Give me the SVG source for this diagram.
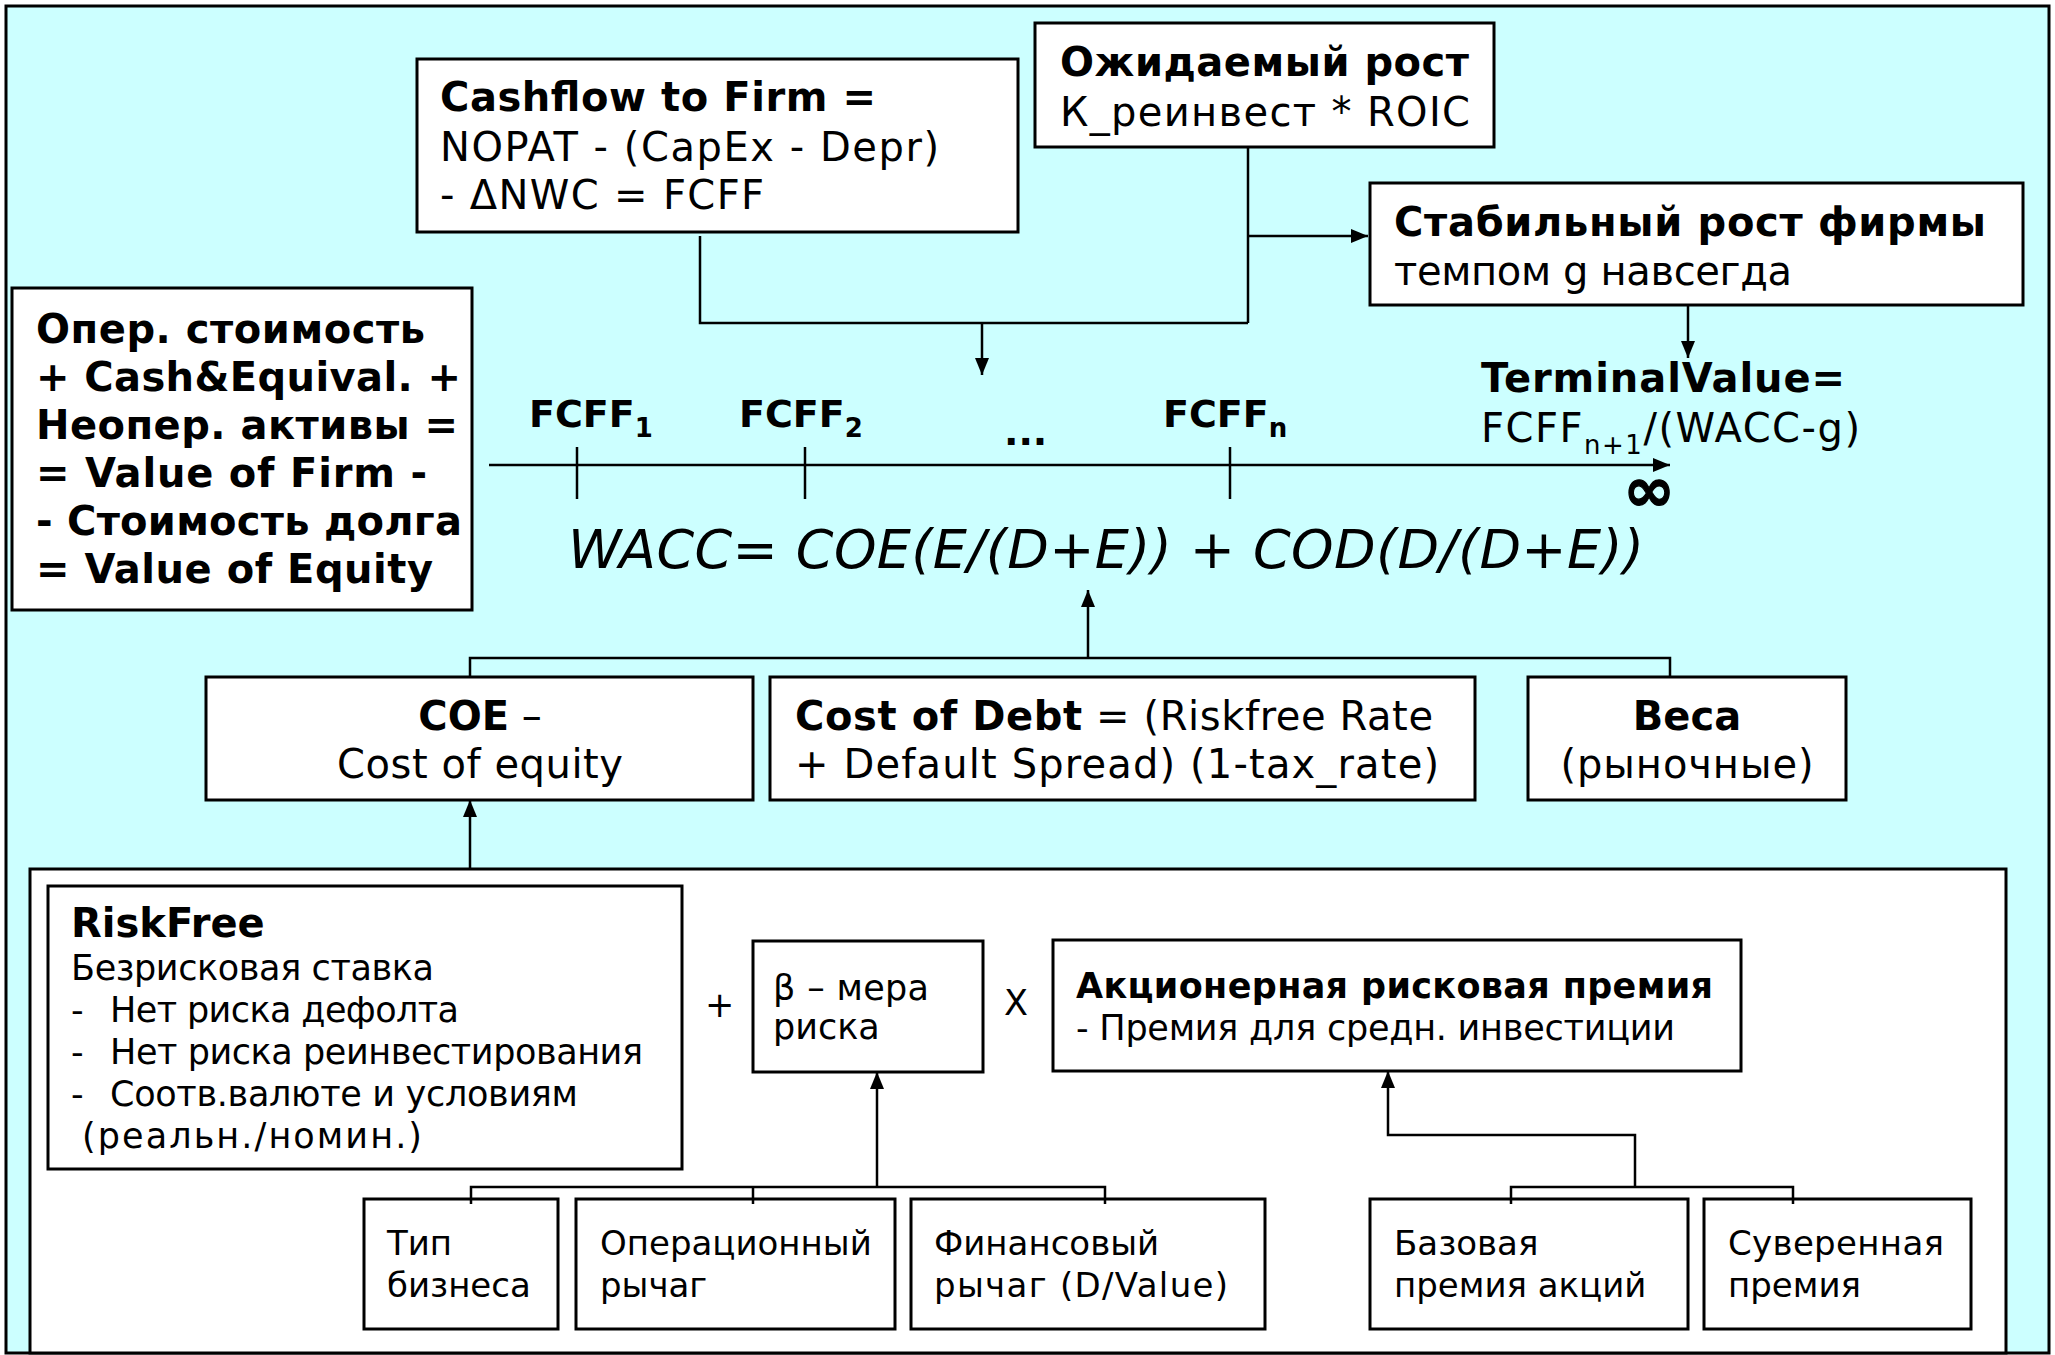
<svg xmlns="http://www.w3.org/2000/svg" width="2055" height="1355" viewBox="0 0 2055 1355">
<style>
text{font-family:"DejaVu Sans",Verdana,sans-serif;fill:#000}
.b{font-weight:bold}
.f40{font-size:40px}
.f35{font-size:35px}
.f34{font-size:34px}
.box{fill:#fff;stroke:#000;stroke-width:3}
.ln{fill:none;stroke:#000;stroke-width:2.5}
</style>
<defs>
<marker id="ah" markerUnits="userSpaceOnUse" markerWidth="18" markerHeight="14" refX="17" refY="7" orient="auto">
<path d="M0,0 L17,7 L0,14 z" fill="#000"/>
</marker>
</defs>
<rect x="0" y="0" width="2055" height="1355" fill="#fff"/>
<rect id="bg" x="6" y="6" width="2043" height="1347" fill="#CCFFFF" stroke="#000" stroke-width="3"/>

<g id="equity-panel"><rect x="30" y="869" width="1976" height="484" class="box"/></g>

<g id="cashflow">
<rect x="417" y="59" width="601" height="173" class="box"/>
<text x="440" y="111" class="f40 b" textLength="436">Cashflow to Firm =</text>
<text x="440" y="161" class="f40" textLength="499">NOPAT - (CapEx - Depr)</text>
<text x="440" y="209" class="f40" textLength="324">- ΔNWC = FCFF</text>
</g>

<g id="growth">
<rect x="1035" y="23" width="459" height="124" class="box"/>
<text x="1060" y="76" class="f40 b" textLength="409">Ожидаемый рост</text>
<text x="1060" y="126" class="f40" textLength="410">К_реинвест * ROIC</text>
</g>

<g id="stable">
<rect x="1370" y="183" width="653" height="122" class="box"/>
<text x="1394" y="236" class="f40 b" textLength="592">Стабильный рост фирмы</text>
<text x="1394" y="285" class="f40" textLength="398">темпом g навсегда</text>
</g>

<g id="value">
<rect x="12" y="288" width="460" height="322" class="box"/>
<text x="36" y="343" class="f40 b" textLength="389">Опер. стоимость</text>
<text x="36" y="391" class="f40 b" textLength="425">+ Cash&amp;Equival. +</text>
<text x="36" y="439" class="f40 b" textLength="422">Неопер. активы =</text>
<text x="36" y="487" class="f40 b" textLength="391">= Value of Firm -</text>
<text x="36" y="535" class="f40 b" textLength="426">- Стоимость долга</text>
<text x="36" y="583" class="f40 b" textLength="397">= Value of Equity</text>
</g>

<g id="timeline">
<text x="529" y="427" font-size="38" class="b">FCFF<tspan font-size="26" dy="10">1</tspan></text>
<text x="739" y="427" font-size="38" class="b">FCFF<tspan font-size="26" dy="10">2</tspan></text>
<text x="1004" y="445" font-size="38" class="b">...</text>
<text x="1163" y="427" font-size="38" class="b">FCFF<tspan font-size="26" dy="10">n</tspan></text>
<text x="1481" y="392" class="f40 b" textLength="364">TerminalValue=</text>
<text x="1481" y="442" class="f40" textLength="379">FCFF<tspan font-size="26" dy="12">n+1</tspan><tspan dy="-12">/(WACC-g)</tspan></text>
<text x="1649" y="511" font-size="62" class="b" text-anchor="middle" stroke="#000" stroke-width="1.2">∞</text>
</g>

<g id="wacc">
<text x="568" y="568" font-size="54" font-style="italic" textLength="1076">WACC= COE(E/(D+E)) + COD(D/(D+E))</text>
</g>

<g id="coe">
<rect x="206" y="677" width="547" height="123" class="box"/>
<text x="480" y="730" class="f40" text-anchor="middle"><tspan class="b">COE</tspan> –</text>
<text x="480" y="778" class="f40" text-anchor="middle" textLength="286">Cost of equity</text>
</g>

<g id="cod">
<rect x="770" y="677" width="705" height="123" class="box"/>
<text x="795" y="730" class="f40" textLength="638"><tspan class="b">Cost of Debt</tspan> = (Riskfree Rate</text>
<text x="795" y="778" class="f40" textLength="644">+ Default Spread) (1-tax_rate)</text>
</g>

<g id="weights">
<rect x="1528" y="677" width="318" height="123" class="box"/>
<text x="1687" y="730" class="f40 b" text-anchor="middle">Веса</text>
<text x="1687" y="778" class="f40" text-anchor="middle" textLength="253">(рыночные)</text>
</g>

<g id="riskfree">
<rect x="48" y="886" width="634" height="283" class="box"/>
<text x="71" y="937" class="f40 b">RiskFree</text>
<text x="71" y="980" class="f35" textLength="363">Безрисковая ставка</text>
<text x="71" y="1022" class="f35">-</text><text x="110" y="1022" class="f35" textLength="349">Нет риска дефолта</text>
<text x="71" y="1064" class="f35">-</text><text x="110" y="1064" class="f35" textLength="533">Нет риска реинвестирования</text>
<text x="71" y="1106" class="f35">-</text><text x="110" y="1106" class="f35" textLength="468">Соотв.валюте и условиям</text>
<text x="82" y="1148" class="f35" textLength="340">(реальн./номин.)</text>
</g>

<g id="ops">
<text x="705" y="1017" class="f35">+</text>
<text x="1004" y="1015" class="f35">X</text>
</g>

<g id="beta">
<rect x="753" y="941" width="230" height="131" class="box"/>
<text x="773" y="1000" class="f35" textLength="156">β – мера</text>
<text x="773" y="1039" class="f35">риска</text>
</g>

<g id="erp">
<rect x="1053" y="940" width="688" height="131" class="box"/>
<text x="1076" y="998" class="f35 b" textLength="637">Акционерная рисковая премия</text>
<text x="1076" y="1040" class="f35" textLength="599">- Премия для средн. инвестиции</text>
</g>

<g id="biztype">
<rect x="364" y="1199" width="194" height="130" class="box"/>
<text x="387" y="1255" class="f34">Тип</text>
<text x="387" y="1297" class="f34">бизнеса</text>
</g>
<g id="oplev">
<rect x="576" y="1199" width="319" height="130" class="box"/>
<text x="600" y="1255" class="f34">Операционный</text>
<text x="600" y="1297" class="f34">рычаг</text>
</g>
<g id="finlev">
<rect x="911" y="1199" width="354" height="130" class="box"/>
<text x="934" y="1255" class="f34">Финансовый</text>
<text x="934" y="1297" class="f34" textLength="294">рычаг (D/Value)</text>
</g>
<g id="baseprem">
<rect x="1370" y="1199" width="318" height="130" class="box"/>
<text x="1394" y="1255" class="f34">Базовая</text>
<text x="1394" y="1297" class="f34">премия акций</text>
</g>
<g id="sovprem">
<rect x="1704" y="1199" width="267" height="130" class="box"/>
<text x="1728" y="1255" class="f34" textLength="216">Суверенная</text>
<text x="1728" y="1297" class="f34">премия</text>
</g>

<g id="connectors">
<polyline class="ln" points="700,236 700,323 1248,323"/>
<line class="ln" x1="1248" y1="147" x2="1248" y2="323"/>
<line class="ln" x1="1248" y1="236" x2="1368" y2="236" marker-end="url(#ah)"/>
<line class="ln" x1="982" y1="323" x2="982" y2="375" marker-end="url(#ah)"/>
<line class="ln" x1="1688" y1="305" x2="1688" y2="358" marker-end="url(#ah)"/>
<line class="ln" x1="489" y1="465" x2="1670" y2="465" marker-end="url(#ah)"/>
<line class="ln" x1="577" y1="447" x2="577" y2="499"/>
<line class="ln" x1="805" y1="447" x2="805" y2="499"/>
<line class="ln" x1="1230" y1="447" x2="1230" y2="499"/>
<polyline class="ln" points="470,677 470,658 1670,658 1670,677"/>
<line class="ln" x1="1088" y1="658" x2="1088" y2="590" marker-end="url(#ah)"/>
<line class="ln" x1="470" y1="869" x2="470" y2="800" marker-end="url(#ah)"/>
<polyline class="ln" points="471,1204 471,1187 1105,1187 1105,1204"/>
<line class="ln" x1="753" y1="1187" x2="753" y2="1204"/>
<line class="ln" x1="877" y1="1187" x2="877" y2="1072" marker-end="url(#ah)"/>
<polyline class="ln" points="1511,1204 1511,1187 1793,1187 1793,1204"/>
<polyline class="ln" points="1635,1187 1635,1135 1388,1135 1388,1071" marker-end="url(#ah)"/>
</g>
</svg>
